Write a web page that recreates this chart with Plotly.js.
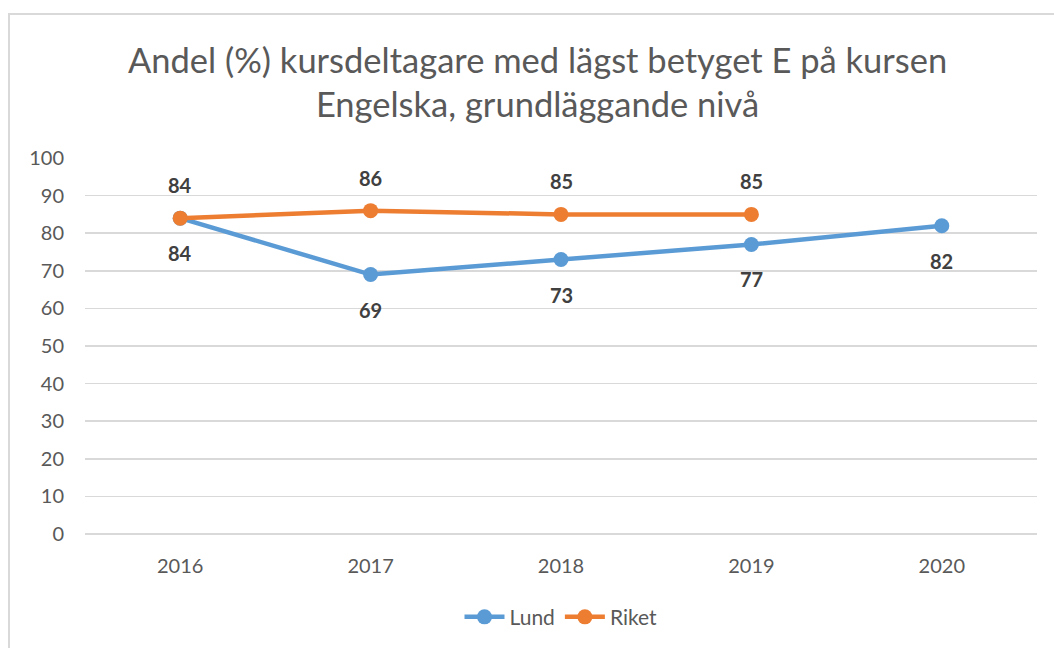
<!DOCTYPE html>
<html>
<head>
<meta charset="utf-8">
<script src="https://cdn.plot.ly/plotly-3.0.1.min.js"></script>
<style>
  html, body { margin: 0; padding: 0; background: #fff; }
  #wrap { position: relative; width: 1054px; height: 648px; overflow: hidden; }
  #chart { position: absolute; left: 0; top: 0; width: 1054px; height: 648px; }
  #frame { position: absolute; left: 8px; top: 13px; width: 1100px; height: 700px;
           border-left: 2px solid #d9d9d9; border-top: 2px solid #d9d9d9; pointer-events: none; }
</style>
</head>
<body>
<div id="wrap">
  <div id="chart"></div>
  <div id="frame"></div>
</div>
<script>
const years = ['2016', '2017', '2018', '2019', '2020'];
const lundValues = [84, 69, 73, 77, 82];
const riketYears = ['2016', '2017', '2018', '2019'];
const riketValues = [84, 86, 85, 85];
const titleText = 'Andel (%) kursdeltagare med lägst betyget E på kursen<br>Engelska, grundläggande nivå';

const FONT = 'Lato, "Open Sans", sans-serif';
const gray = '#595959';
const blue = '#5b9bd5';
const orange = '#ed7d31';

const traces = [
  { x: years, y: lundValues, name: 'Lund', type: 'scatter', mode: 'lines+markers',
    line: { color: blue, width: 4.5 }, marker: { color: blue, size: 15 }, hoverinfo: 'skip' },
  { x: riketYears, y: riketValues, name: 'Riket', type: 'scatter', mode: 'lines+markers',
    line: { color: orange, width: 4.5 }, marker: { color: orange, size: 15 }, hoverinfo: 'skip' }
];

const labelFont = { family: FONT, size: 20, color: '#404040', weight: 'bold' };
const annotations = [];
// category axes take the category's serial index for annotation positions
years.forEach((yr, i) => annotations.push({
  x: years.indexOf(yr), y: lundValues[i], text: '<b>' + lundValues[i] + '</b>', showarrow: false,
  yshift: -35, font: labelFont }));
riketYears.forEach((yr, i) => annotations.push({
  x: years.indexOf(yr), y: riketValues[i], text: '<b>' + riketValues[i] + '</b>', showarrow: false,
  yshift: 33, font: labelFont }));

const layout = {
  width: 1054, height: 648,
  paper_bgcolor: 'rgba(0,0,0,0)', plot_bgcolor: 'rgba(0,0,0,0)',
  margin: { l: 85, r: 17, t: 158, b: 113 },
  title: { text: titleText, font: { family: FONT, size: 34.5, color: gray },
           x: 0.51, xanchor: 'center', y: 0.888, yanchor: 'top' },
  xaxis: { type: 'category', categoryorder: 'array', categoryarray: years,
           range: [-0.5, years.length - 0.5],
           showgrid: false, showline: false, zeroline: false,
           tickfont: { family: FONT, size: 20, color: gray }, ticks: '', ticklabelstandoff: 18 },
  yaxis: { range: [0, 100], dtick: 10, showgrid: true, gridcolor: '#d9d9d9', gridwidth: 1.5,
           zeroline: true, zerolinecolor: '#d9d9d9', zerolinewidth: 1.5, showline: false,
           tickfont: { family: FONT, size: 20, color: gray }, ticks: '', ticklabelstandoff: 20 },
  showlegend: true,
  legend: { orientation: 'h', x: 0.5, xanchor: 'center', y: -0.218, yanchor: 'middle',
            font: { family: FONT, size: 21, color: gray }, itemwidth: 40 },
  annotations: annotations
};

Plotly.newPlot('chart', traces, layout, { displayModeBar: false, staticPlot: true });
</script>
</body>
</html>
